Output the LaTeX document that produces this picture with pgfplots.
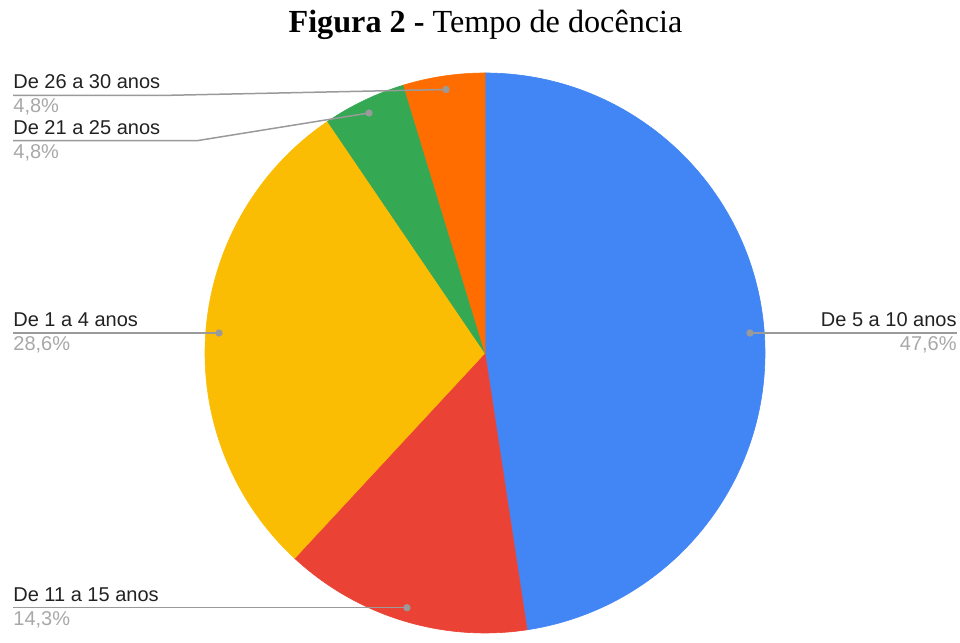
\documentclass[border=0pt]{standalone}
\usepackage{pgfplots}
\pgfplotsset{compat=1.18}
\usepackage{pgfplotstable}
\usepackage{fontspec}
\setmainfont{Liberation Sans}
\newfontfamily\titlefont{Liberation Serif}
\definecolor{cBlue}{HTML}{4285F4}
\definecolor{cRed}{HTML}{EA4335}
\definecolor{cYellow}{HTML}{FBBC04}
\definecolor{cGreen}{HTML}{34A853}
\definecolor{cOrange}{HTML}{FF6D01}
\definecolor{cLine}{HTML}{9A9A9A}
\definecolor{cPct}{HTML}{A8A8A8}
\definecolor{cName}{HTML}{222222}
% percentages, clockwise from the top
\pgfplotstableread{
name pct
5a10 47.6
11a15 14.3
1a4 28.6
21a25 4.8
26a30 4.8
}\piedata
\begin{document}
\begin{tikzpicture}
\begin{axis}[
  scale only axis, width=480pt, height=316.5pt,
  xmin=0, xmax=960, ymin=0, ymax=633,
  hide axis, clip=false,
]
\path (axis cs:0,0) rectangle (axis cs:960,633);
% slices (centre 485,280 ; radius 280 units = 140pt)
\filldraw[cBlue, line width=0.3pt]   (axis cs:485,280) -- ++(90:140pt) arc[start angle=90, end angle={90-3.6*47.6}, radius=140pt] -- cycle;
\filldraw[cRed, line width=0.3pt]    (axis cs:485,280) -- ++({90-3.6*47.6}:140pt) arc[start angle={90-3.6*47.6}, end angle={90-3.6*(47.6+14.3)}, radius=140pt] -- cycle;
\filldraw[cYellow, line width=0.3pt] (axis cs:485,280) -- ++({90-3.6*(47.6+14.3)}:140pt) arc[start angle={90-3.6*(47.6+14.3)}, end angle={90-3.6*(47.6+14.3+28.6)}, radius=140pt] -- cycle;
\filldraw[cGreen, line width=0.3pt]  (axis cs:485,280) -- ++({90-3.6*(47.6+14.3+28.6)}:140pt) arc[start angle={90-3.6*(47.6+14.3+28.6)}, end angle={90-3.6*(47.6+14.3+28.6+4.8)}, radius=140pt] -- cycle;
\filldraw[cOrange, line width=0.3pt] (axis cs:485,280) -- ++({90-3.6*(47.6+14.3+28.6+4.8)}:140pt) arc[start angle={90-3.6*(47.6+14.3+28.6+4.8)}, end angle=-270, radius=140pt] -- cycle;
% leader lines
\addplot[cLine, line width=0.75pt] coordinates {(13,537.5) (160,537.5) (446,543.5)};
\addplot[cLine, line width=0.75pt] coordinates {(13,492.3) (197,492.3) (369,520)};
\addplot[cLine, line width=0.75pt] coordinates {(13,300) (219,300)};
\addplot[cLine, line width=0.75pt] coordinates {(750,300) (957,300)};
\addplot[cLine, line width=0.75pt] coordinates {(13,25.3) (407,25.3)};
\addplot[only marks, mark=*, mark size=1.6pt, cLine] coordinates {(446,543.5) (369,520) (219,300) (750,300) (407,25.3)};
% labels
\begingroup
\fontsize{9.8}{12}\selectfont
\node[anchor=base west, inner sep=0pt, text=cName] at (axis cs:13,544) {De 26 a 30 anos};
\node[anchor=base west, inner sep=0pt, text=cPct] at (axis cs:13,520) {4,8\%};
\node[anchor=base west, inner sep=0pt, text=cName] at (axis cs:13,498) {De 21 a 25 anos};
\node[anchor=base west, inner sep=0pt, text=cPct] at (axis cs:13,474) {4,8\%};
\node[anchor=base west, inner sep=0pt, text=cName] at (axis cs:13,306) {De 1 a 4 anos};
\node[anchor=base west, inner sep=0pt, text=cPct] at (axis cs:13,282) {28,6\%};
\node[anchor=base east, inner sep=0pt, text=cName] at (axis cs:957,306) {De 5 a 10 anos};
\node[anchor=base east, inner sep=0pt, text=cPct] at (axis cs:957,282) {47,6\%};
\node[anchor=base west, inner sep=0pt, text=cName] at (axis cs:13,31.3) {De 11 a 15 anos};
\node[anchor=base west, inner sep=0pt, text=cPct] at (axis cs:13,7) {14,3\%};
\endgroup
% title
\node[anchor=base, inner sep=0pt] at (axis cs:485.5,600) {\titlefont\fontsize{16.1}{20}\selectfont\textbf{Figura 2 -} Tempo de docência};
\end{axis}
\end{tikzpicture}
\end{document}
